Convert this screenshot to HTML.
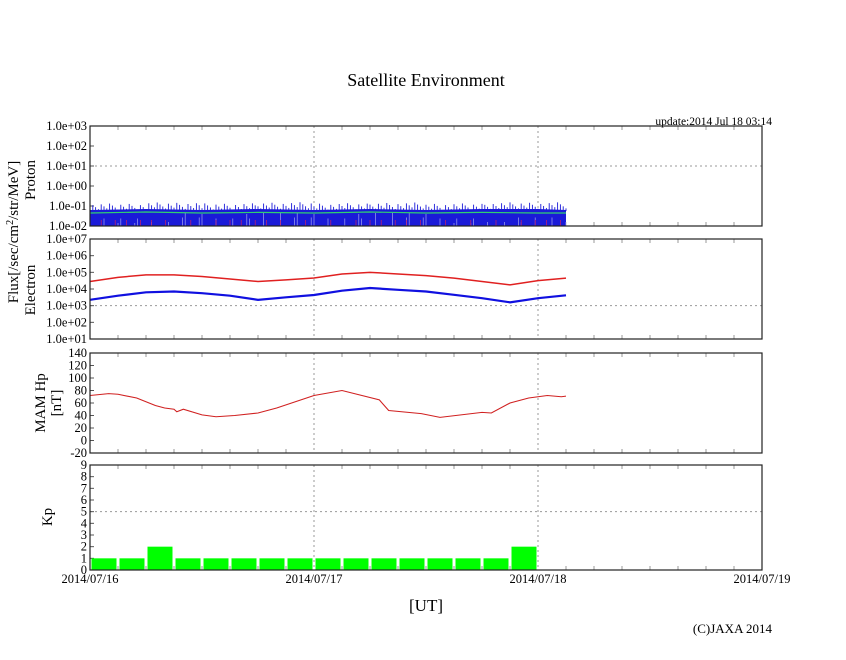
<!DOCTYPE html>
<html><head><meta charset="utf-8"><style>
body{margin:0;background:#fff}
svg text{font-family:"Liberation Serif",serif;fill:#000}
</style></head><body>
<svg id="c" width="846" height="655" viewBox="0 0 846 655">
<text x="426" y="86" font-size="18" text-anchor="middle">Satellite Environment</text>
<text x="772" y="125" font-size="11.5" text-anchor="end">update:2014 Jul 18 03:14</text>
<text x="426" y="611" font-size="17" text-anchor="middle">[UT]</text>
<text x="772" y="633" font-size="13" text-anchor="end">(C)JAXA 2014</text>
<g id="g"></g>
</svg>
<script>
// data
const xTickLabels=["2014/07/16","2014/07/17","2014/07/18","2014/07/19"];
const kpValues=[1,1,2,1,1,1,1,1,1,1,1,1,1,1,1,2];
const mamHours=[0,2,3,5,7,8,9,9.3,10,12,13.5,15.5,18,20,22,24,27,31,32,35.5,37.5,42,43,45,47,49,50.5,51];
const mamValues=[72,75,74,68,56,52,50,46,50,41,38,40,44,52,62,72,80,65,48,43,37,45,44,60,68,72,70,71];
const elecHours=[0,3,6,9,12,15,18,21,24,27,30,33,36,39,42,45,48,51];
const elecRedLog=[4.45,4.7,4.85,4.85,4.75,4.6,4.45,4.55,4.66,4.9,5.0,4.9,4.8,4.65,4.45,4.25,4.5,4.65];
const elecBlueLog=[3.35,3.6,3.8,3.85,3.75,3.6,3.35,3.5,3.64,3.9,4.06,3.95,3.85,3.65,3.45,3.2,3.45,3.62];
const protonHours=[0,6,12,18,24,30,36,42,48,51];
const protonUpperLog=[-1.2,-1.15,-1.2,-1.15,-1.2,-1.15,-1.2,-1.15,-1.15,-1.2];
const protonGreenLog=[-1.35,-1.3,-1.35,-1.32,-1.35,-1.3,-1.35,-1.32,-1.35,-1.35];
const protonTicks=["1.0e+03","1.0e+02","1.0e+01","1.0e+00","1.0e-01","1.0e-02"];
const elecTicks=["1.0e+07","1.0e+06","1.0e+05","1.0e+04","1.0e+03","1.0e+02","1.0e+01"];
const mamTicks=[140,120,100,80,60,40,20,0,-20];
const kpTicks=[9,8,7,6,5,4,3,2,1,0];

const NS="http://www.w3.org/2000/svg",G=document.getElementById('g');
const X0=90,X1=762;
const xh=h=>X0+h*(X1-X0)/72;
function el(t,a,p){const e=document.createElementNS(NS,t);for(const k in a)e.setAttribute(k,a[k]);(p||G).appendChild(e);return e;}
const panels=[
 {n:'proton',top:126,bot:226,lo:-2,hi:3},
 {n:'electron',top:239,bot:339,lo:1,hi:7},
 {n:'mam',top:353,bot:453,lo:-20,hi:140},
 {n:'kp',top:465,bot:570,lo:0,hi:9}];
panels.forEach(p=>{p.y=v=>p.bot-(v-p.lo)*(p.bot-p.top)/(p.hi-p.lo);});
const [PP,PE,PM,PK]=panels;
function frame(p,ticks,vals,dashVals){
 for(let h=3;h<72;h+=3){const x=xh(h);
  if(h%24==0){const l=el('line',{x1:x,x2:x,y1:p.top,y2:p.bot,stroke:'#999','stroke-dasharray':'2,3'});}
  else{el('line',{x1:x,x2:x,y1:p.bot,y2:p.bot-4,stroke:'#999'});el('line',{x1:x,x2:x,y1:p.top,y2:p.top+4,stroke:'#999'});}}
 dashVals.forEach(v=>{const l=el('line',{x1:X0,x2:X1,y1:p.y(v),y2:p.y(v),stroke:'#999','stroke-dasharray':'2,3'});});
 ticks.forEach((t,i)=>{const y=p.y(vals[i]);
  const tx=el('text',{x:X0-3,y:y+4,'font-size':12.5,'text-anchor':'end'});tx.textContent=t;
  
  el('line',{x1:X0,x2:X0+4,y1:y,y2:y,stroke:'#555'});});
}
function border(p){const r=el('rect',{x:X0,y:p.top,width:X1-X0,height:p.bot-p.top,fill:'none',stroke:'#222','stroke-width':1.2});
 }
frame(PP,protonTicks,[3,2,1,0,-1,-2],[1]);
frame(PE,elecTicks,[7,6,5,4,3,2,1],[3]);
frame(PM,mamTicks.map(String),mamTicks,[]);
frame(PK,kpTicks.map(String),kpTicks,[5]);
// proton band
let pts=protonHours.map((h,i)=>xh(h)+','+PP.y(protonUpperLog[i]));
pts.push(xh(51)+','+PP.bot,xh(0)+','+PP.bot);
let e=el('polygon',{points:pts.join(' '),fill:'#1a1ad8'});

for(let h=0;h<=51;h+=0.3){const x=xh(h);const i=Math.min(Math.floor(h/6),protonHours.length-2);
 const base=PP.y(protonUpperLog[i]);
 const top=base-((h*7.3)%3.1)*2.2;
 el('line',{x1:x,x2:x,y1:top,y2:base+2,stroke:'#1a1ad8','stroke-width':0.9});
 if((h*11)%4<1.0)el('line',{x1:x,x2:x,y1:base+4+((h*5)%3)*3,y2:PP.bot,stroke:'#ffffff','stroke-width':0.7,opacity:0.6});
 if((h*13)%5<0.8)el('line',{x1:x,x2:x,y1:PP.bot-6,y2:PP.bot,stroke:'#d02060','stroke-width':0.7});}
e=el('polyline',{points:protonHours.map((h,i)=>xh(h)+','+PP.y(protonGreenLog[i])).join(' '),fill:'none',stroke:'#30d070','stroke-width':1.2});

// electron
e=el('polyline',{points:elecHours.map((h,i)=>xh(h)+','+PE.y(elecRedLog[i])).join(' '),fill:'none',stroke:'#e02020','stroke-width':1.5});

e=el('polyline',{points:elecHours.map((h,i)=>xh(h)+','+PE.y(elecBlueLog[i])).join(' '),fill:'none',stroke:'#1010e0','stroke-width':2.2});

// MAM
e=el('polyline',{points:mamHours.map((h,i)=>xh(h)+','+PM.y(mamValues[i])).join(' '),fill:'none',stroke:'#d02020','stroke-width':1.1});

// Kp
kpValues.forEach((v,i)=>{const x=xh(i*3)+1.5,w=xh(3)-X0-3;
 const b=el('rect',{x:x,y:PK.y(v),width:w,height:PK.bot-PK.y(v),fill:'#00ff00'});
 });
panels.forEach(border);
// x labels
xTickLabels.forEach((t,i)=>{const tx=el('text',{x:xh(i*24),y:583,'font-size':12.5,'text-anchor':'middle'});tx.textContent=t;
 });
// y titles
function vt(x,y,lines,n){const t=el('text',{transform:`translate(${x},${y}) rotate(-90)`,'font-size':15,'text-anchor':'middle'});
 
 lines.forEach((s,i)=>{const ts=el('tspan',{x:0,dy:i?16:0},t);ts.innerHTML=s;});}
vt(18,232,['Flux[/sec/cm<tspan dy="-5" font-size="10">2</tspan><tspan dy="5">/str/MeV]</tspan>'],'flux-axis-title');
vt(35,180,['Proton'],'proton-axis-title');
vt(35,290,['Electron'],'electron-axis-title');
vt(45,403,['MAM Hp','[nT]'],'mam-axis-title');
vt(52,517,['Kp'],'kp-axis-title');
</script>
</body></html>
